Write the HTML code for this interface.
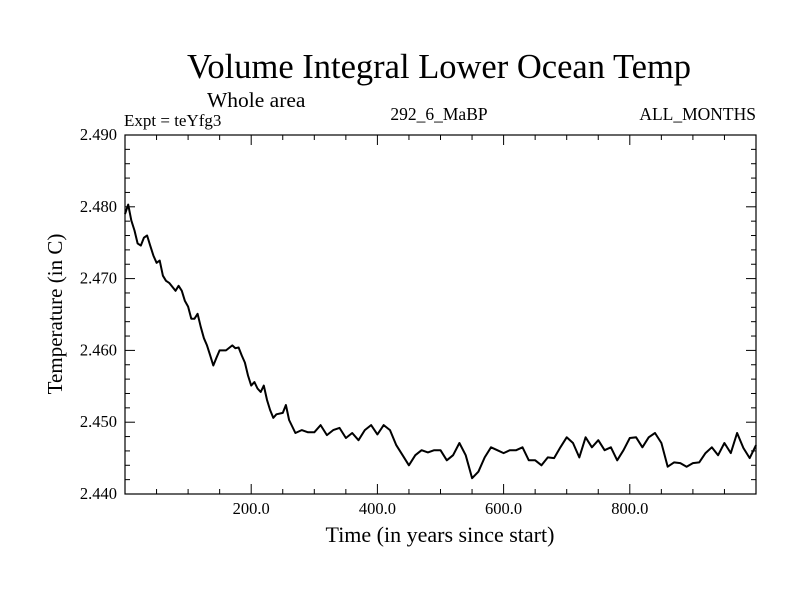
<!DOCTYPE html>
<html><head><meta charset="utf-8"><style>
body{margin:0;background:#fff}
svg text{font-family:"Liberation Serif",serif;fill:#000}
</style></head><body>
<svg id="chart" width="800" height="600" xmlns="http://www.w3.org/2000/svg">
<text x="439" y="78" font-size="34.5" text-anchor="middle">Volume Integral Lower Ocean Temp</text>
<text x="207" y="107" font-size="21.5">Whole area</text>
<text x="124" y="126" font-size="17">Expt = teYfg3</text>
<text x="439" y="120" font-size="17.5" text-anchor="middle">292_6_MaBP</text>
<text x="756" y="120" font-size="17.5" text-anchor="end">ALL_MONTHS</text>
<text x="440" y="542" font-size="22" text-anchor="middle">Time (in years since start)</text>
<text transform="translate(62,314) rotate(-90)" font-size="21" text-anchor="middle">Temperature (in C)</text>
<g id="axes"></g>
<path id="series" fill="none" stroke="#000" stroke-width="2" stroke-linejoin="round"/>
<rect x="125" y="135" width="631" height="359" fill="none" stroke="#000" stroke-width="1.2"/>
</svg>
<script>
const years=[0,5,10,15,20,25,30,35,40,45,50,55,60,65,70,80,85,90,95,100,105,110,115,120,125,130,135,140,145,150,160,170,175,180,185,190,195,200,205,210,215,220,225,230,235,240,250,255,260,270,280,290,300,310,320,330,340,350,360,370,380,390,400,410,420,430,440,450,460,470,480,490,500,510,520,530,540,550,560,570,580,590,600,610,620,630,640,650,660,670,680,690,700,710,720,730,740,750,760,770,780,790,800,810,820,830,840,850,860,870,880,890,900,910,920,930,940,950,960,970,980,990,1000];
const temps=[2.4790,2.4803,2.4781,2.4767,2.4749,2.4746,2.4757,2.4760,2.4746,2.4732,2.4722,2.4725,2.4704,2.4697,2.4694,2.4683,2.4690,2.4683,2.4669,2.4661,2.4644,2.4644,2.4651,2.4633,2.4617,2.4607,2.4593,2.4579,2.4590,2.4600,2.4600,2.4607,2.4603,2.4604,2.4593,2.4583,2.4565,2.4551,2.4556,2.4547,2.4542,2.4551,2.4531,2.4517,2.4506,2.4511,2.4513,2.4524,2.4503,2.4485,2.4489,2.4486,2.4486,2.4496,2.4482,2.4489,2.4492,2.4478,2.4485,2.4475,2.4489,2.4496,2.4483,2.4496,2.4489,2.4468,2.4454,2.4440,2.4454,2.4461,2.4458,2.4461,2.4461,2.4447,2.4454,2.4471,2.4454,2.4422,2.4431,2.4451,2.4465,2.4461,2.4457,2.4461,2.4461,2.4465,2.4447,2.4447,2.4440,2.4451,2.4450,2.4465,2.4479,2.4471,2.4451,2.4479,2.4465,2.4475,2.4461,2.4465,2.4447,2.4461,2.4478,2.4479,2.4465,2.4479,2.4485,2.4471,2.4438,2.4444,2.4443,2.4438,2.4443,2.4444,2.4457,2.4465,2.4454,2.4471,2.4457,2.4485,2.4464,2.4450,2.4468];
const xTickLabels=["200.0","400.0","600.0","800.0"];
const xTickValues=[200,400,600,800];
const yTickLabels=["2.440","2.450","2.460","2.470","2.480","2.490"];
const yTickValues=[2.44,2.45,2.46,2.47,2.48,2.49];
const L=125,R=756,T=135,B=494,X0=0,X1=1000,Y0=2.44,Y1=2.49;
const xs=v=>L+(v-X0)/(X1-X0)*(R-L);
const ys=v=>B-(v-Y0)/(Y1-Y0)*(B-T);
const NS="http://www.w3.org/2000/svg";
const ax=document.getElementById('axes');
function line(x1,y1,x2,y2,name){const l=document.createElementNS(NS,'line');
l.setAttribute('x1',x1);l.setAttribute('y1',y1);l.setAttribute('x2',x2);l.setAttribute('y2',y2);
l.setAttribute('stroke','#000');l.setAttribute('stroke-width','1');


ax.appendChild(l);}
function txt(x,y,s,anchor,name){const t=document.createElementNS(NS,'text');
t.setAttribute('x',x);t.setAttribute('y',y);t.setAttribute('font-size','16.5');t.setAttribute('text-anchor',anchor);t.textContent=s;


ax.appendChild(t);}
for(let v=50;v<1000;v+=50){const x=xs(v);const major=v%200===0;const len=major?10:5;
line(x,B,x,B-len,'x-tick');line(x,T,x,T+len,'x-tick-top');}
xTickValues.forEach((v,i)=>txt(xs(v),514,xTickLabels[i],'middle','x-tick-label'));
for(let k=0;k<=25;k++){const v=Y0+k*0.002;const y=ys(v);const major=k%5===0;const len=major?10:5;
line(L,y,L+len,y,'y-tick');line(R,y,R-len,y,'y-tick-right');}
yTickValues.forEach((v,i)=>txt(117,ys(v)+5,yTickLabels[i],'end','y-tick-label'));
let d='';years.forEach((y,i)=>{d+=(i?'L':'M')+xs(y).toFixed(1)+' '+ys(temps[i]).toFixed(1)+' ';});
document.getElementById('series').setAttribute('d',d);
</script>
</body></html>
